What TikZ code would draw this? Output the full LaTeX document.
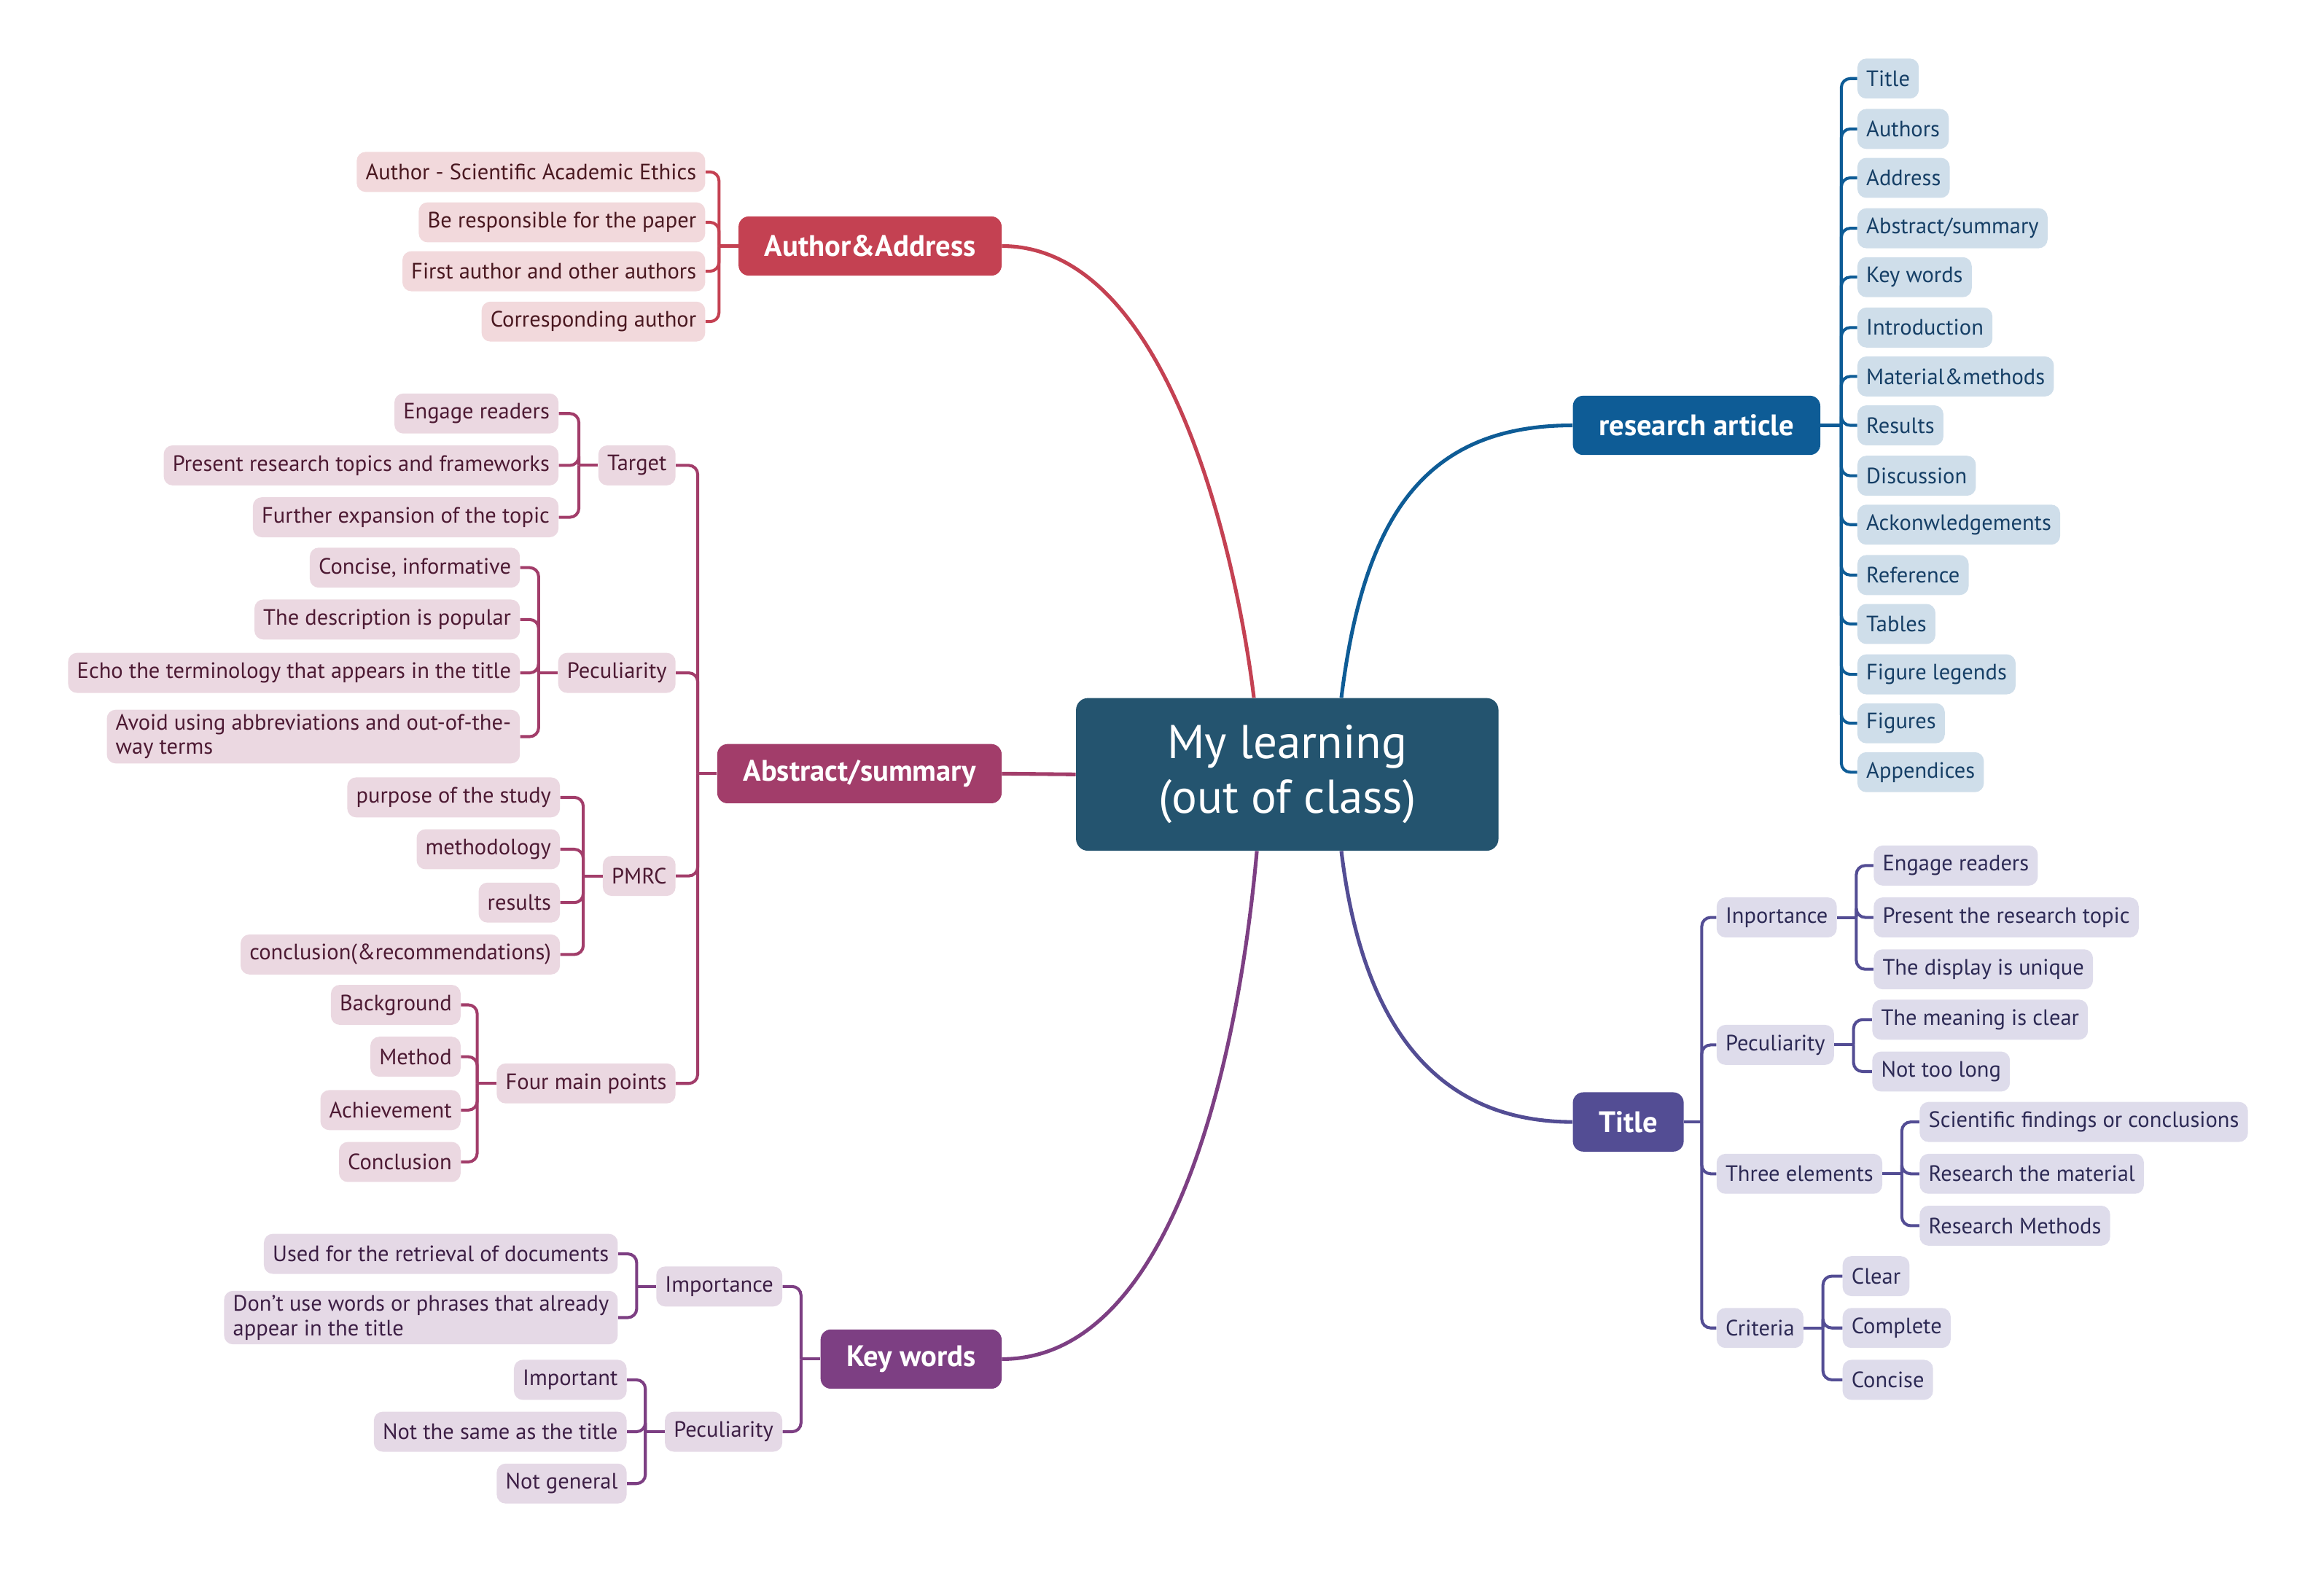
\documentclass[tikz,border=0pt]{standalone}
\usepackage{fontspec}
\setmainfont{PT Sans}
\definecolor{core}{HTML}{24546F}
\definecolor{rablue}{HTML}{0E5C96}\definecolor{rafill}{HTML}{CFDEEA}\definecolor{ratext}{HTML}{163F66}
\definecolor{aared}{HTML}{C44152}\definecolor{aafill}{HTML}{F2D9DC}\definecolor{aatext}{HTML}{4A1820}
\definecolor{abmag}{HTML}{A23D6A}\definecolor{abfill}{HTML}{EBD8E1}\definecolor{abtext}{HTML}{4D1A33}
\definecolor{kwpur}{HTML}{7D3F83}\definecolor{kwfill}{HTML}{E5D9E6}\definecolor{kwtext}{HTML}{3D1F45}
\definecolor{tiind}{HTML}{534D94}\definecolor{tifill}{HTML}{DEDCEB}\definecolor{titext}{HTML}{2D2A55}
\tikzset{
  leaf/.style={rounded corners=6pt, minimum height=27pt, inner xsep=6pt, inner ysep=3pt, align=left, font=\fontsize{15}{16.5}\selectfont},
  topic/.style={rounded corners=7pt, minimum height=40pt, inner xsep=17.5pt, text=white, font=\fontsize{20}{23}\selectfont\bfseries},
  raleaf/.style={leaf, fill=rafill, text=ratext, anchor=west},
  aaleaf/.style={leaf, fill=aafill, text=aatext, anchor=east},
  ableaf/.style={leaf, fill=abfill, text=abtext, anchor=east},
  kwleaf/.style={leaf, fill=kwfill, text=kwtext, anchor=east},
  tileaf/.style={leaf, fill=tifill, text=titext, anchor=west},
  branch/.style={line width=2.5pt},
  twig/.style={line width=2pt, rounded corners=6pt}
}
\begin{document}
\begin{tikzpicture}[x=1pt, y=-1pt]
\useasboundingbox (0,0) rectangle (1568,1063);
% centre
\node[fill=core, rounded corners=8pt, minimum width=285pt, minimum height=103pt, text=white, align=center,
  font=\fontsize{32}{37}\selectfont] (core) at (868.5,522.5) {My learning\\(out of class)};

% main topics
\node[topic, fill=rablue, anchor=west] (ra) at (1061,287) {research article};
\node[topic, fill=aared, anchor=east] (aa) at (676,166) {Author\&Address};
\node[topic, fill=abmag, anchor=east] (ab) at (676,522) {Abstract/summary};
\node[topic, fill=kwpur, anchor=east] (kw) at (676,917) {Key words};
\node[topic, fill=tiind, anchor=west] (ti) at (1061,757) {Title};

\draw[branch, aared] (aa.east) .. controls (790,166) and (835,380) .. ([xshift=-22.5pt]core.north);
\draw[branch, rablue] ([xshift=36.5pt]core.north) .. controls (920,350) and (960,287) .. (ra.west);
\draw[branch, abmag] (ab.east) -- (core.west);
\draw[branch, kwpur] ([xshift=-20.5pt]core.south) .. controls (835,720) and (790,917) .. (kw.east);
\draw[branch, tiind] ([xshift=36.5pt]core.south) .. controls (920,700) and (975,757) .. (ti.west);

% research article
\node[raleaf] (ra1) at (1253,53) {Title};
\node[raleaf] (ra2) at (1253,87) {Authors};
\node[raleaf] (ra3) at (1253,120) {Address};
\node[raleaf] (ra4) at (1253,154) {Abstract/summary};
\node[raleaf] (ra5) at (1253,187) {Key words};
\node[raleaf] (ra6) at (1253,221) {Introduction};
\node[raleaf] (ra7) at (1253,254) {Material\&methods};
\node[raleaf] (ra8) at (1253,287) {Results};
\node[raleaf] (ra9) at (1253,321) {Discussion};
\node[raleaf] (ra10) at (1253,354) {Ackonwledgements};
\node[raleaf] (ra11) at (1253,388) {Reference};
\node[raleaf] (ra12) at (1253,421) {Tables};
\node[raleaf] (ra13) at (1253,455) {Figure legends};
\node[raleaf] (ra14) at (1253,488) {Figures};
\node[raleaf] (ra15) at (1253,521) {Appendices};
\draw[twig, rablue] (ra.east) -- ++(14,0) coordinate (raj);
\foreach \n in {1,...,15} \draw[twig, rablue] (raj) |- (ra\n.west);

% author & address
\node[aaleaf] (aa1) at (476,116) {Author - Scientific Academic Ethics};
\node[aaleaf] (aa2) at (476,150) {Be responsible for the paper};
\node[aaleaf] (aa3) at (476,183) {First author and other authors};
\node[aaleaf] (aa4) at (476,217) {Corresponding author};
\draw[twig, aared] (aa.west) -- ++(-13,0) coordinate (aaj);
\foreach \n in {1,...,4} \draw[twig, aared] (aaj) |- (aa\n.east);

% abstract / summary
\node[ableaf] (abT) at (456,314) {Target};
\node[ableaf] (abP) at (456,454) {Peculiarity};
\node[ableaf] (abM) at (456,591) {PMRC};
\node[ableaf] (abF) at (456,731) {Four main points};
\draw[twig, abmag] (ab.west) -- ++(-13,0) coordinate (abj);
\foreach \n in {T,P,M,F} \draw[twig, abmag] (abj) |- (ab\n.east);

\node[ableaf] (abT1) at (377,279) {Engage readers};
\node[ableaf] (abT2) at (377,314) {Present research topics and frameworks};
\node[ableaf] (abT3) at (377,349) {Further expansion of the topic};
\node[ableaf] (abP1) at (351,383) {Concise, informative};
\node[ableaf] (abP2) at (351,418) {The description is popular};
\node[ableaf] (abP3) at (351,454) {Echo the terminology that appears in the title};
\node[ableaf] (abP4) at (351,497) {Avoid using abbreviations and out-of-the-\\way terms};
\node[ableaf] (abM1) at (378,538) {purpose of the study};
\node[ableaf] (abM2) at (378,573) {methodology};
\node[ableaf] (abM3) at (378,609) {results};
\node[ableaf] (abM4) at (378,644) {conclusion(\&recommendations)};
\node[ableaf] (abF1) at (311,678) {Background};
\node[ableaf] (abF2) at (311,713) {Method};
\node[ableaf] (abF3) at (311,749) {Achievement};
\node[ableaf] (abF4) at (311,784) {Conclusion};
\foreach \p/\k in {T/3,P/4,M/4,F/4}{
  \draw[twig, abmag] (ab\p.west) -- ++(-13,0) coordinate (ab\p j);
  \foreach \n in {1,...,\k} \draw[twig, abmag] (ab\p j) |- (ab\p\n.east);
}

% key words
\node[kwleaf] (kwI) at (528,868) {Importance};
\node[kwleaf] (kwP) at (528,966) {Peculiarity};
\draw[twig, kwpur] (kw.west) -- ++(-13,0) coordinate (kwj);
\foreach \n in {I,P} \draw[twig, kwpur] (kwj) |- (kw\n.east);
\node[kwleaf] (kwI1) at (417,846) {Used for the retrieval of documents};
\node[kwleaf] (kwI2) at (417,889) {Don't use words or phrases that already\\appear in the title};
\node[kwleaf] (kwP1) at (423,931) {Important};
\node[kwleaf] (kwP2) at (423,966) {Not the same as the title};
\node[kwleaf] (kwP3) at (423,1001) {Not general};
\foreach \p/\k in {I/2,P/3}{
  \draw[twig, kwpur] (kw\p.west) -- ++(-13,0) coordinate (kw\p j);
  \foreach \n in {1,...,\k} \draw[twig, kwpur] (kw\p j) |- (kw\p\n.east);
}

% title
\node[tileaf] (tiI) at (1158,619) {Inportance};
\node[tileaf] (tiP) at (1158,705) {Peculiarity};
\node[tileaf] (tiE) at (1158,792) {Three elements};
\node[tileaf] (tiC) at (1158,896) {Criteria};
\draw[twig, tiind] (ti.east) -- ++(12,0) coordinate (tij);
\foreach \n in {I,P,E,C} \draw[twig, tiind] (tij) |- (ti\n.west);
\node[tileaf] (tiI1) at (1264,584) {Engage readers};
\node[tileaf] (tiI2) at (1264,619) {Present the research topic};
\node[tileaf] (tiI3) at (1264,654) {The display is unique};
\node[tileaf] (tiP1) at (1263,688) {The meaning is clear};
\node[tileaf] (tiP2) at (1263,723) {Not too long};
\node[tileaf] (tiE1) at (1295,757) {Scientific findings or conclusions};
\node[tileaf] (tiE2) at (1295,792) {Research the material};
\node[tileaf] (tiE3) at (1295,827) {Research Methods};
\node[tileaf] (tiC1) at (1243,861) {Clear};
\node[tileaf] (tiC2) at (1243,896) {Complete};
\node[tileaf] (tiC3) at (1243,931) {Concise};
\foreach \p/\k in {I/3,P/2,E/3,C/3}{
  \draw[twig, tiind] (ti\p.east) -- ++(13,0) coordinate (ti\p j);
  \foreach \n in {1,...,\k} \draw[twig, tiind] (ti\p j) |- (ti\p\n.west);
}
\end{tikzpicture}
\end{document}
